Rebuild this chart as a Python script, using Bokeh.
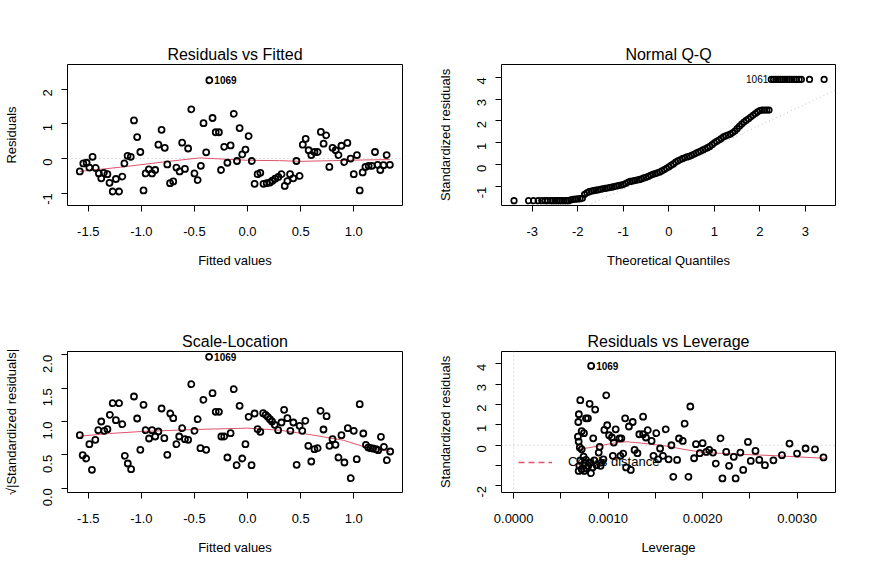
import math
from bokeh.plotting import figure
from bokeh.layouts import gridplot
from bokeh.models import Span, Slope, Legend, LegendItem, Range1d, FixedTicker
from bokeh.core.properties import value
from bokeh.embed import file_html
from bokeh.resources import INLINE

FONT = "Liberation Sans"
RED = "#DF536B"
GRAY = "#BEBEBE"

# ---------------- data ----------------
# Residuals vs Fitted
P1_FITTED = [-1.58, -1.547, -1.516, -1.49, -1.46, -1.43, -1.40, -1.378, -1.353, -1.32,
             -1.30, -1.27, -1.24, -1.21, -1.18, -1.16, -1.13, -1.10, -1.07, -1.04,
             -1.01, -0.98, -0.96, -0.93, -0.90, -0.87, -0.84, -0.81, -0.78, -0.756,
             -0.73, -0.70, -0.67, -0.64, -0.616, -0.59, -0.56, -0.53, -0.50, -0.47,
             -0.44, -0.415, -0.39, -0.36, -0.33, -0.30, -0.27, -0.25, -0.22, -0.19,
             -0.16, -0.13, -0.10, -0.075, -0.05, -0.02, 0.01, 0.04, 0.066, 0.094,
             0.12, 0.15, 0.18, 0.21, 0.234, 0.26, 0.29, 0.32, 0.35, 0.375,
             0.40, 0.43, 0.46, 0.49, 0.52, 0.547, 0.575, 0.60, 0.63, 0.66,
             0.69, 0.716, 0.74, 0.77, 0.80, 0.83, 0.856, 0.884, 0.91, 0.94,
             0.97, 1.0, 1.03, 1.056, 1.084, 1.11, 1.14, 1.17, 1.20, 1.225,
             1.25, 1.28, 1.31, 1.34]
P1_RESID = [-0.37, -0.14, -0.12, -0.26, 0.05, -0.27, -0.43, -0.57, -0.41, -0.45,
            -0.70, -0.95, -0.59, -0.95, -0.52, -0.14, 0.08, 0.05, 1.10, 0.62,
            0.19, -0.92, -0.43, -0.31, -0.43, -0.33, 0.40, 0.83, 0.31, -0.17,
            -0.71, -0.66, -0.26, -0.37, 0.46, -0.30, 0.29, 1.42, -0.43, -0.62,
            -0.21, 1.02, 0.18, 2.26, 1.17, 0.76, 0.76, -0.33, 0.34, -0.12,
            0.38, 1.29, -0.07, 0.88, 0.12, 0.26, 0.65, -0.07, -0.73, -0.45,
            -0.41, -0.73, -0.71, -0.69, -0.64, -0.58, -0.53, -0.45, -0.79, -0.65,
            -0.45, -0.57, -0.07, -0.50, 0.40, 0.57, 0.24, 0.10, 0.19, 0.19,
            0.77, 0.43, 0.67, -0.24, 0.31, 0.24, 0.10, 0.37, -0.10, 0.45,
            0.0, -0.45, 0.10, -0.92, -0.40, -0.24, -0.21, -0.21, 0.19, -0.18,
            -0.33, -0.19, 0.10, -0.18]
P1_SMOOTH_X = [-1.58, -1.2, -0.8, -0.45, -0.2, 0.0, 0.3, 0.5, 0.8, 1.1, 1.34]
P1_SMOOTH_Y = [-0.37, -0.25, -0.10, 0.02, -0.02, -0.05, -0.06, -0.08, -0.06, -0.04, -0.03]
P1_LABEL = "1069"

# Normal Q-Q
QQ_THEO = [-3.40, -3.08, -2.97, -2.87, -2.79, -2.72, -2.66, -2.60, -2.55, -2.50,
           -2.45, -2.40, -2.35, -2.30, -2.25, -2.20,
           -2.15, -2.10, -2.05, -2.00, -1.95, -1.90, -1.85, -1.80, -1.75, -1.70,
           -1.65, -1.60, -1.55, -1.50, -1.45, -1.40, -1.35, -1.30, -1.25, -1.20,
           -1.15, -1.10, -1.05, -1.00, -0.95, -0.90, -0.85, -0.80, -0.75, -0.70,
           -0.65, -0.60, -0.55, -0.50, -0.45, -0.40, -0.35, -0.30, -0.25, -0.20,
           -0.15, -0.10, -0.05, 0.00, 0.05, 0.10, 0.15, 0.20, 0.25, 0.30,
           0.35, 0.40, 0.45, 0.50, 0.55, 0.60, 0.65, 0.70, 0.75, 0.80,
           0.85, 0.90, 0.95, 1.00, 1.05, 1.10, 1.15, 1.20, 1.25, 1.30,
           1.35, 1.40, 1.45, 1.50, 1.55, 1.60, 1.65, 1.70, 1.75, 1.80,
           1.85, 1.90, 1.95, 2.00, 2.05, 2.10, 2.15, 2.20,
           2.25, 2.30, 2.35, 2.40, 2.45, 2.50, 2.55, 2.60, 2.65, 2.70,
           2.75, 2.80, 2.86, 2.91, 3.09, 3.41]
QQ_STD = [-1.64, -1.64, -1.64, -1.64, -1.64, -1.64, -1.64, -1.64, -1.64, -1.64,
          -1.64, -1.64, -1.64, -1.64, -1.64, -1.64,
          -1.60, -1.58, -1.57, -1.56, -1.55, -1.53, -1.35, -1.28, -1.23, -1.20,
          -1.18, -1.16, -1.14, -1.12, -1.10, -1.08, -1.06, -1.04, -1.02, -1.00,
          -0.97, -0.95, -0.93, -0.90, -0.86, -0.80, -0.76, -0.74, -0.72, -0.70,
          -0.68, -0.64, -0.60, -0.57, -0.53, -0.48, -0.44, -0.40, -0.37, -0.33,
          -0.28, -0.22, -0.16, -0.10, -0.03, 0.04, 0.12, 0.18, 0.23, 0.28,
          0.32, 0.36, 0.39, 0.43, 0.48, 0.53, 0.58, 0.63, 0.68, 0.73,
          0.78, 0.84, 0.92, 1.00, 1.07, 1.13, 1.20, 1.28, 1.32, 1.36,
          1.40, 1.46, 1.54, 1.65, 1.76, 1.86, 1.95, 2.03, 2.10, 2.18,
          2.26, 2.34, 2.42, 2.48, 2.50, 2.50, 2.50, 2.50,
          3.90, 3.90, 3.90, 3.90, 3.90, 3.90, 3.90, 3.90, 3.90, 3.90,
          3.90, 3.90, 3.90, 3.90, 3.90, 3.90]
QQ_LINE_SLOPE = 0.969
QQ_LINE_INTERCEPT = -0.135
QQ_LABEL = "1061"

# Scale-Location
P3_FITTED = [-1.58, -1.553, -1.52, -1.49, -1.466, -1.434, -1.406, -1.378, -1.35, -1.32,
             -1.297, -1.27, -1.24, -1.21, -1.18, -1.156, -1.128, -1.097, -1.07, -1.04,
             -1.01, -0.98, -0.96, -0.928, -0.90, -0.87, -0.84, -0.81, -0.784, -0.756,
             -0.728, -0.70, -0.67, -0.644, -0.616, -0.59, -0.56, -0.53, -0.50, -0.47,
             -0.444, -0.416, -0.39, -0.3625, -0.33, -0.30, -0.27, -0.247, -0.22, -0.19,
             -0.16, -0.13, -0.103, -0.075, -0.05, -0.02, 0.01, 0.0375,
             0.066, 0.094, 0.12, 0.147, 0.17, 0.19, 0.21, 0.23, 0.256, 0.288,
             0.319, 0.344, 0.375, 0.403, 0.431, 0.462, 0.49, 0.515, 0.544, 0.572,
             0.60, 0.63, 0.66, 0.687, 0.715, 0.744, 0.771, 0.80, 0.828, 0.856,
             0.884, 0.912, 0.944, 0.972, 1.0, 1.028, 1.056, 1.09, 1.115, 1.137,
             1.16, 1.18, 1.21, 1.23, 1.256, 1.284, 1.312, 1.343]
P3_SQRT_STD = [0.795, 0.495, 0.445, 0.66, 0.275, 0.725, 0.87, 1.0, 0.86, 0.885,
               1.10, 1.275, 1.02, 1.275, 0.96, 0.485, 0.37, 0.285, 1.375, 1.045,
               0.575, 1.25, 0.87, 0.745, 0.87, 0.775, 0.85, 1.195, 0.75, 0.50,
               1.12, 1.05, 0.66, 0.775, 0.90, 0.735, 0.725, 1.56, 0.86, 1.035,
               0.60, 1.325, 0.575, 1.97, 1.425, 1.145, 1.145, 0.775, 0.775, 0.46,
               0.825, 1.485, 0.345, 1.235, 0.445, 0.66, 1.07, 0.345,
               1.12, 0.885, 0.845, 1.125, 1.10, 1.07, 1.035, 1.0, 0.95, 0.87,
               0.985, 1.175, 1.05, 0.86, 0.985, 0.35, 0.935, 0.86, 1.01, 0.635,
               0.40, 0.585, 0.60, 1.16, 0.88, 1.08, 0.635, 0.735, 0.65, 0.46,
               0.795, 0.385, 0.90, 0.15, 0.86, 0.435, 1.26, 0.82, 0.65, 0.61,
               0.60, 0.595, 0.585, 0.57, 0.77, 0.62, 0.42, 0.55]
P3_SMOOTH_X = [-1.58, -1.3, -1.0, -0.5, 0.0, 0.3, 0.6, 0.9, 1.1, 1.34]
P3_SMOOTH_Y = [0.78, 0.82, 0.85, 0.88, 0.90, 0.87, 0.80, 0.72, 0.62, 0.55]
P3_LABEL = "1069"

# Residuals vs Leverage
P4_LEV = [0.00082, 0.000705, 0.000804, 0.000863, 0.00098, 0.00069, 0.000765, 0.000786, 0.000684, 0.00072,
          0.000744, 0.00068, 0.000688, 0.000842, 0.00099, 0.00096, 0.00101, 0.00104, 0.00108, 0.00106,
          0.00112, 0.00114, 0.00118, 0.00122, 0.00126, 0.00133, 0.00137, 0.00137, 0.0014, 0.00142,
          0.00146, 0.00151, 0.00161, 0.00155, 0.00167, 0.00175, 0.00179, 0.00181, 0.00187, 0.00191,
          0.00193, 0.00197, 0.0020, 0.00204, 0.00207, 0.00211, 0.00214, 0.00219, 0.00221, 0.00225,
          0.00228, 0.00233, 0.00235, 0.0024, 0.00243, 0.00248, 0.00251, 0.00256, 0.0026, 0.00266,
          0.00275, 0.00284, 0.00292, 0.0030, 0.00309, 0.00319, 0.00328, 0.00105, 0.00113, 0.00116,
          0.00119, 0.00124, 0.00128, 0.00131, 0.00148, 0.00153, 0.00158, 0.00164, 0.00169, 0.00173,
          0.00185, 0.0007, 0.00072, 0.000705, 0.00074, 0.000765, 0.000747, 0.000695, 0.00072, 0.000688,
          0.00079, 0.00081, 0.000818, 0.000853, 0.000877, 0.0009, 0.00091, 0.00093, 0.00095, 0.00092,
          0.000747, 0.00077, 0.000835]
P4_STD = [3.89, 2.21, 2.03, 1.75, 2.45, 1.52, 1.32, 1.32, 1.14, 0.69,
          0.59, 0.42, 0.18, 0.34, 0.98, 0.75, 0.49, 0.38, 0.78, 0.13,
          0.34, 0.34, 1.32, 0.92, 1.14, 0.54, 0.54, 1.40, 0.38, 0.74,
          0.21, 0.59, 0.78, -0.16, 0.0, 0.33, 0.21, 1.06, 1.90, -0.64,
          0.05, -0.39, 0.10, -0.33, -0.23, -0.36, -0.90, 0.34, -1.63, -0.33,
          -1.01, -0.57, -1.63, -0.36, -1.21, 0.16, -0.77, -0.28, -0.72, -0.98,
          -0.74, -0.49, 0.08, -0.41, -0.16, -0.20, -0.60, -0.52, -0.52, -0.41,
          -1.09, -1.21, -0.23, -0.39, -0.52, -0.69, -0.52, -0.69, -1.55, -0.72,
          -1.55, -0.11, -0.20, -0.75, -0.56, -0.72, -0.88, -1.01, -1.18, -1.26,
          -1.01, -0.85, -1.37, -0.74, -0.98, -0.36, -0.08, -0.85, -0.69, -1.01,
          -1.26, -1.14, -1.09]
P4_SMOOTH_X = [0.00068, 0.0008, 0.001, 0.0011, 0.0012, 0.0014, 0.0016, 0.0018, 0.002,
               0.0022, 0.0024, 0.0026, 0.0028, 0.003, 0.0033]
P4_SMOOTH_Y = [-0.20, -0.12, 0.05, 0.14, 0.17, 0.08, -0.03, -0.20, -0.35,
               -0.40, -0.45, -0.48, -0.52, -0.57, -0.64]
P4_LABEL = "1069"
COOK_LEGEND = "Cook's distance"

# ticks
P1_XTICKS = [-1.5, -1.0, -0.5, 0.0, 0.5, 1.0]
P1_XLABELS = ["-1.5", "-1.0", "-0.5", "0.0", "0.5", "1.0"]
P1_YTICKS = [-1, 0, 1, 2]
P1_YLABELS = ["-1", "0", "1", "2"]
P2_XTICKS = [-3, -2, -1, 0, 1, 2, 3]
P2_XLABELS = ["-3", "-2", "-1", "0", "1", "2", "3"]
P2_YTICKS = [-1, 0, 1, 2, 3, 4]
P2_YLABELS = ["-1", "0", "1", "2", "3", "4"]
P3_YTICKS = [0.0, 0.5, 1.0, 1.5, 2.0]
P3_YLABELS = ["0.0", "0.5", "1.0", "1.5", "2.0"]
P4_XTICKS = [0.0, 0.0005, 0.001, 0.0015, 0.002, 0.0025, 0.003]
P4_XLABELS = ["0.0000", "", "0.0010", "", "0.0020", "", "0.0030"]
P4_YTICKS = [-2, -1, 0, 1, 2, 3, 4]
P4_YLABELS = ["-2", "", "0", "1", "2", "3", "4"]


def make_fig(title, xr, yr, w, h, bl, br, bt, bb, xlabel, ylabel,
             xticks, xlabels, yticks, ylabels):
    p = figure(width=w, height=h, x_range=Range1d(*xr), y_range=Range1d(*yr),
               output_backend="svg", toolbar_location=None, tools="",
               min_border_left=bl, min_border_right=br, min_border_top=bt,
               min_border_bottom=bb, title=title)
    p.title.align = "center"
    p.title.text_font = FONT
    p.title.text_font_size = "16px"
    p.title.text_font_style = "normal"
    p.title.text_color = "black"
    p.title.standoff = 3
    p.xgrid.visible = False
    p.ygrid.visible = False
    p.outline_line_color = "black"
    p.outline_line_width = 1
    p.outline_line_alpha = 1
    p.background_fill_color = "white"
    p.border_fill_color = "white"
    for ax in (p.xaxis[0], p.yaxis[0]):
        ax.axis_line_color = None
        ax.major_tick_line_color = "black"
        ax.major_tick_out = 6
        ax.major_tick_in = 0
        ax.minor_tick_line_color = None
        ax.major_label_text_font = FONT
        ax.major_label_text_font_size = "13px"
        ax.major_label_text_color = "black"
        ax.axis_label_text_font = FONT
        ax.axis_label_text_font_size = "13px"
        ax.axis_label_text_font_style = "normal"
        ax.axis_label_text_color = "black"
    p.xaxis[0].axis_label = xlabel
    p.yaxis[0].axis_label = ylabel
    p.xaxis[0].ticker = FixedTicker(ticks=xticks)
    p.xaxis[0].major_label_overrides = {t: l for t, l in zip(xticks, xlabels)}
    p.yaxis[0].ticker = FixedTicker(ticks=yticks)
    p.yaxis[0].major_label_overrides = {t: l for t, l in zip(yticks, ylabels)}
    p.xaxis[0].major_label_standoff = 15
    p.xaxis[0].axis_label_standoff = 14
    p.yaxis[0].major_label_orientation = math.pi / 2
    p.yaxis[0].major_label_standoff = 14
    p.yaxis[0].axis_label_standoff = 17
    return p


def pts(p, x, y, size=6, lw=1.8):
    p.scatter(x, y, marker="circle", size=size, fill_color=None,
              line_color="black", line_width=lw)


def hline(p):
    p.add_layout(Span(location=0, dimension="width", line_color=GRAY,
                      line_dash="1 3", line_width=1, level="underlay"))


# Panel 1
p1 = make_fig("Residuals vs Fitted", (-1.696, 1.459), (-1.354, 2.714), 434, 287,
              65, 32, 63, 82, "Fitted values", "Residuals",
              P1_XTICKS, P1_XLABELS, P1_YTICKS, P1_YLABELS)
hline(p1)
p1.line(P1_SMOOTH_X, P1_SMOOTH_Y, line_color=RED, line_width=1)
pts(p1, P1_FITTED, P1_RESID)
i1 = P1_RESID.index(max(P1_RESID))
p1.text([P1_FITTED[i1]], [P1_RESID[i1]], text=[P1_LABEL], text_font=value(FONT),
        text_font_size="10px", text_font_style="bold", text_baseline="middle",
        text_align="left", x_offset=5)

# Panel 2
p2 = make_fig("Normal Q-Q", (-3.675, 3.66), (-1.86, 4.58), 434, 287,
              65, 33, 64, 81, "Theoretical Quantiles", "Standardized residuals",
              P2_XTICKS, P2_XLABELS, P2_YTICKS, P2_YLABELS)
p2.add_layout(Slope(gradient=QQ_LINE_SLOPE, y_intercept=QQ_LINE_INTERCEPT,
                    line_color=GRAY, line_dash="1 3", line_width=1, level="underlay"))
pts(p2, QQ_THEO, QQ_STD, size=5.5, lw=1.7)
i2 = QQ_STD.index(max(QQ_STD))
p2.text([QQ_THEO[i2]], [QQ_STD[i2]], text=[QQ_LABEL], text_font=value(FONT),
        text_font_size="10px", text_baseline="middle", text_align="right", x_offset=-3)

# Panel 3
p3 = make_fig("Scale-Location", (-1.696, 1.459), (-0.065, 2.05), 434, 286,
              65, 32, 64, 81, "Fitted values", "\u221a|Standardized residuals|",
              P1_XTICKS, P1_XLABELS, P3_YTICKS, P3_YLABELS)
p3.line(P3_SMOOTH_X, P3_SMOOTH_Y, line_color=RED, line_width=1)
pts(p3, P3_FITTED, P3_SQRT_STD)
i3 = P3_SQRT_STD.index(max(P3_SQRT_STD))
p3.text([P3_FITTED[i3]], [P3_SQRT_STD[i3]], text=[P3_LABEL], text_font=value(FONT),
        text_font_size="10px", text_font_style="bold", text_baseline="middle",
        text_align="left", x_offset=5)

# Panel 4
p4 = make_fig("Residuals vs Leverage", (-0.000129, 0.003407), (-2.32, 4.6), 434, 286,
              65, 33, 64, 81, "Leverage", "Standardized residuals",
              P4_XTICKS, P4_XLABELS, P4_YTICKS, P4_YLABELS)
hline(p4)
p4.add_layout(Span(location=0, dimension="height", line_color=GRAY,
                   line_dash="1 3", line_width=1, level="underlay"))
cook = p4.line(x=[float("nan")], y=[float("nan")], line_color=RED,
               line_dash="6 4", line_width=1.3)
leg = Legend(items=[LegendItem(label=COOK_LEGEND, renderers=[cook])],
             location=(17, 23), padding=0, margin=0, spacing=0,
             glyph_width=34, glyph_height=14, label_standoff=16,
             label_text_font=FONT, label_text_font_size="13px",
             label_text_color="black", label_height=14,
             background_fill_alpha=0, border_line_color=None, level="underlay")
p4.add_layout(leg)
p4.line(P4_SMOOTH_X, P4_SMOOTH_Y, line_color=RED, line_width=1)
pts(p4, P4_LEV, P4_STD)
i4 = P4_STD.index(max(P4_STD))
p4.text([P4_LEV[i4]], [P4_STD[i4]], text=[P4_LABEL], text_font=value(FONT),
        text_font_size="10px", text_font_style="bold", text_baseline="middle",
        text_align="left", x_offset=5)

grid = gridplot([[p1, p2], [p3, p4]], toolbar_location=None)

open("out.html", "w").write(file_html(grid, INLINE))
